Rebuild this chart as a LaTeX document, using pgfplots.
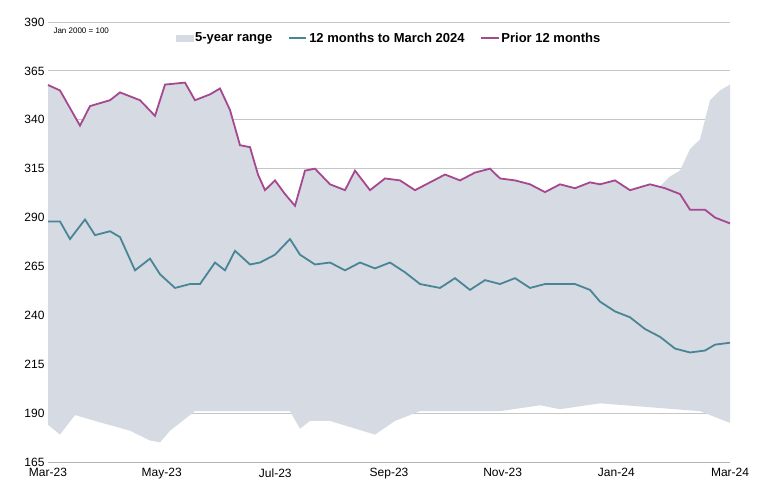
\documentclass[border=0pt]{standalone}
\usepackage{pgfplots}
\pgfplotsset{compat=1.18}
\usepgfplotslibrary{fillbetween}
\usepackage{fontspec}
\setmainfont{Liberation Sans}
\definecolor{rng}{HTML}{D5DAE3}
\definecolor{teal}{HTML}{4A8596}
\definecolor{plum}{HTML}{A5488F}
\begin{document}
\begin{tikzpicture}
\begin{axis}[scale only axis, width=682pt, height=440pt,
 xmin=0, xmax=682, ymin=165, ymax=390,
 ytick={165,190,...,390}, ymajorgrids, grid style={gray!45, line width=0.9pt},
 xtick={0,113.67,227.33,341,454.67,568.33,682},
 xticklabels={Mar-23,May-23,Jul-23,Sep-23,Nov-23,Jan-24,Mar-24},
 axis line style={draw=none}, tick style={draw=none},
 tick label style={font=\fontsize{12}{13}\selectfont},
 xticklabel style={yshift=-3pt},
 /pgf/number format/assume math mode=true,
 legend style={at={(0.5,0.985)}, anchor=north, draw=none, fill=none,
   legend columns=3, font=\bfseries\fontsize{13}{15}\selectfont,
   /tikz/every even column/.append style={column sep=14pt}},
 legend cell align=left, clip=false]
\addplot[name path=up, draw=none, forget plot] coordinates {
(0,357.8)(12,355)(32,337)(42,347)(62,350)(72,354)(92,350)(107,342)(117,358)(137,359)(147,350)(162,353)(172,356)(182,345)(192,327)(202,326)(210,312)(217,304)(227,309)(237,302)(247,296)(257,314)(267,315)(282,307)(297,304)(307,314)(322,304)(337,310)(352,309)(367,304)(382,308)(397,312)(412,309)(427,313)(442,315)(452,310)(467,309)(482,307)(497,303)(512,307)(527,305)(542,308)(552,307)(567,309)(582,304)(602,307)(612,306)(622,311)(632,314)(642,325)(652,330)(662,350)(672,355)(682,358)};
\addplot[name path=lo, draw=none, forget plot] coordinates {
(0,184)(12,179)(27,189)(47,186)(82,181)(102,176)(112,175)(122,181)(147,191)(200,191)(242,191)(252,182)(262,186)(282,186)(327,179)(347,186)(372,191)(452,191)(492,194)(512,192)(552,195)(602,193)(652,191)(682,185)};
\addplot[rng, draw=none, area legend] fill between[of=up and lo];
\addlegendentry{5-year range}
\addplot[teal, line width=1.8pt] coordinates {
(0,288)(12,288)(22,279)(37,289)(47,281)(62,283)(72,280)(87,263)(102,269)(112,261)(127,254)(142,256)(152,256)(167,267)(177,263)(187,273)(202,266)(212,267)(227,271)(242,279)(252,271)(267,266)(282,267)(297,263)(312,267)(327,264)(342,267)(357,262)(372,256)(392,254)(407,259)(422,253)(437,258)(452,256)(467,259)(482,254)(497,256)(512,256)(527,256)(542,253)(552,247)(567,242)(582,239)(597,233)(612,229)(627,223)(642,221)(657,222)(667,225)(682,226)};
\addlegendentry{12 months to March 2024}
\addplot[plum, line width=1.8pt] coordinates {
(0,357.8)(12,355)(32,337)(42,347)(62,350)(72,354)(92,350)(107,342)(117,358)(137,359)(147,350)(162,353)(172,356)(182,345)(192,327)(202,326)(210,312)(217,304)(227,309)(237,302)(247,296)(257,314)(267,315)(282,307)(297,304)(307,314)(322,304)(337,310)(352,309)(367,304)(382,308)(397,312)(412,309)(427,313)(442,315)(452,310)(467,309)(482,307)(497,303)(512,307)(527,305)(542,308)(552,307)(567,309)(582,304)(602,307)(617,305)(632,302)(642,294)(657,294)(667,290)(682,287)};
\addlegendentry{Prior 12 months}
\draw[gray!60, line width=0.9pt] (axis cs:0,165) -- (axis cs:682,165);
\node[anchor=north west, font=\fontsize{8}{9}\selectfont] at (axis cs:2,389) {Jan 2000 = 100};
\end{axis}
\path (current axis.south west)+(-48pt,-38pt) (current axis.north east)+(30pt,22pt);
\end{tikzpicture}
\end{document}
